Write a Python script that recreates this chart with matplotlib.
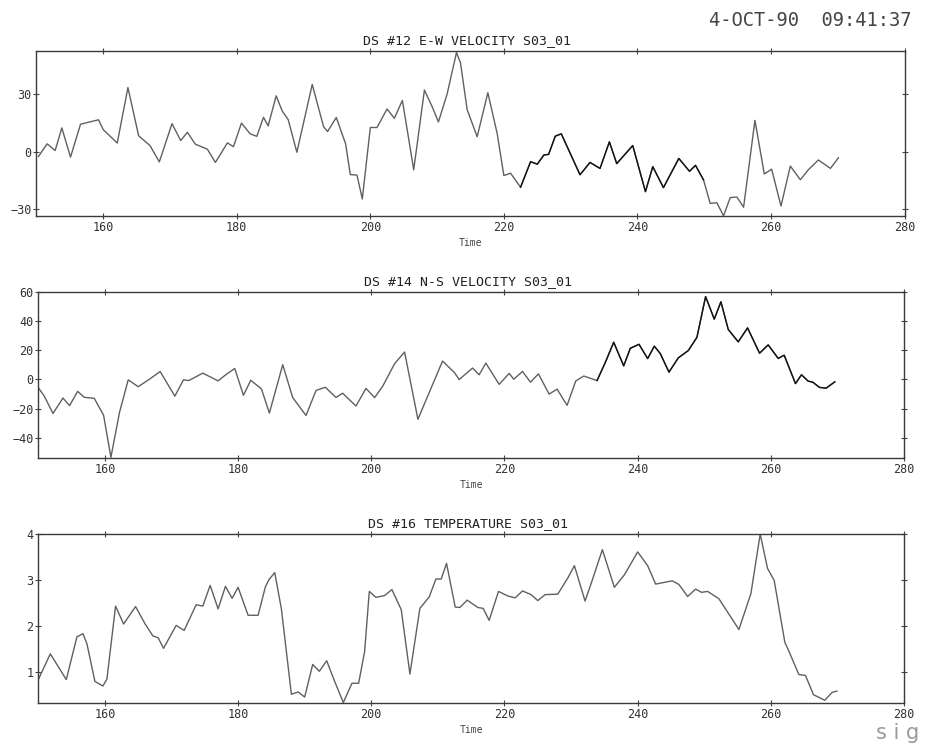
import numpy as np
import matplotlib
matplotlib.use("Agg")
from matplotlib import pyplot as plt

plt.rcParams['font.family'] = ['DejaVu Sans Mono', 'DejaVu Sans']

# DS #12 E-W velocity
t_ew = [150.3, 151.6, 152.8, 153.8, 155.1, 156.6, 158.1, 159.3, 160.0, 162.1,
        163.7, 165.3, 167.0, 168.4, 170.3, 171.6, 172.6, 173.8, 175.6, 176.8,
        178.6, 179.5, 180.7, 182.0, 183.0, 184.0, 184.7, 185.9, 186.8, 187.7,
        189.0, 191.3, 193.0, 193.6, 194.9, 196.3, 197.0, 198.0, 198.8, 200.0,
        201.0, 202.5, 203.6, 204.8, 206.5, 208.1, 209.3, 210.2, 211.5, 212.9,
        213.5, 214.5, 216.0, 217.6, 219.0, 220.0, 221.0, 222.5, 224.0, 225.0,
        226.0, 226.7, 227.7, 228.6, 231.4, 232.9, 234.4, 235.8, 236.9, 239.3,
        241.2, 242.3, 243.9, 246.2, 247.8, 248.7, 249.9, 250.9, 251.9, 252.9,
        253.9, 254.9, 255.9, 257.6, 259.0, 260.1, 261.5, 262.9, 264.4, 265.6,
        267.1, 268.9, 270.1]
v_ew = [-2.6, 4, 0.5, 12.3, -2.9, 14.2, 15.5, 16.5, 11.4, 4.4,
        33.3, 8.2, 3.1, -5.4, 14.5, 5.7, 10, 3.8, 1.2, -5.7,
        4.5, 2.5, 14.8, 9.2, 7.9, 17.8, 13.3, 29, 21.1, 16.6,
        -0.4, 34.9, 12.9, 10.4, 17.7, 4, -12, -12.3, -24.7, 12.5,
        12.5, 22.1, 17.3, 26.6, -9.5, 32, 23, 15.4, 29.9, 51.5,
        46.2, 21.8, 7.7, 30.6, 9.3, -12.5, -11.3, -18.6, -5.3, -6.6,
        -1.8, -1.5, 8, 9.2, -12.1, -5.7, -8.8, 5, -6.3, 3.1,
        -20.9, -7.9, -18.8, -3.6, -10.3, -7.2, -14.8, -27, -26.7, -33.5,
        -24, -23.7, -29, 16.2, -11.7, -9.2, -28.4, -7.6, -14.7, -9.5,
        -4.4, -8.8, -3.3]

# DS #14 N-S velocity
t_ns = [150.0, 150.9, 152.2, 153.7, 154.7, 155.9, 156.9, 158.4, 159.8, 160.9,
        162.2, 163.5, 165.0, 166.7, 168.3, 170.5, 171.8, 172.6, 174.7, 177.0,
        178.2, 179.5, 180.8, 181.9, 183.5, 184.7, 186.7, 188.2, 190.2, 191.7,
        193.1, 194.7, 195.7, 197.7, 199.2, 200.5, 201.7, 203.5, 205.0, 207.0,
        208.7, 210.7, 212.5, 213.2, 215.2, 216.2, 217.2, 219.2, 220.7, 221.4,
        222.7, 223.9, 225.1, 226.7, 227.9, 229.4, 230.7, 231.9, 233.9, 235.1,
        236.4, 237.9, 238.9, 240.2, 241.5, 242.5, 243.4, 244.7, 246.1, 247.6,
        248.9, 250.2, 251.5, 252.5, 253.6, 255.1, 256.5, 258.3, 259.6, 261.1,
        262.0, 263.7, 264.6, 265.6, 266.3, 267.3, 268.3, 269.6]
v_ns = [-5.7, -11.5, -23.4, -12.8, -18, -8.2, -12.3, -13, -24.6, -53.5,
        -22.5, -0.3, -5, 0.2, 5.4, -11.5, -0.3, -0.8, 4.3, -1,
        3.4, 7.5, -10.9, -0.6, -6.5, -23.1, 10.1, -12.5, -24.8, -7.6,
        -5.4, -12.4, -9.5, -18.3, -6.2, -12.5, -4.8, 10.8, 18.8, -27.4,
        -9, 12.6, 4.6, -0.1, 7.8, 3.2, 11.2, -3.4, 4.1, 0.1,
        5.5, -1.9, 3.8, -10.1, -6.7, -17.8, -1.1, 2.3, -0.8, 11.2,
        25.5, 9.3, 21.4, 24.1, 14.3, 22.8, 17.7, 5, 14.8, 19.8,
        28.9, 56.9, 41.4, 53.3, 34.3, 25.8, 35.4, 18, 23.7, 14.4,
        16.6, -2.9, 3.2, -1.2, -1.9, -5.5, -6, -1.7]

# DS #16 temperature
t_tp = [150.0, 151.8, 153.0, 154.2, 155.8, 156.7, 157.3, 158.5, 159.7, 160.3,
        161.6, 162.8, 164.6, 166.0, 167.2, 168.0, 168.8, 170.7, 171.9, 173.7,
        174.7, 175.8, 177.0, 178.1, 179.1, 180.0, 181.5, 183.0, 184.1, 184.6,
        185.5, 186.5, 188.0, 189.0, 190.0, 191.2, 192.2, 193.3, 194.5, 195.8,
        197.1, 198.1, 199.0, 199.7, 200.7, 202.0, 203.1, 204.5, 205.8, 207.3,
        208.7, 209.7, 210.5, 211.3, 212.6, 213.3, 214.4, 216.0, 216.8, 217.7,
        219.1, 220.5, 221.6, 222.7, 224.0, 225.0, 226.1, 228.0, 229.5, 230.5,
        232.1, 233.1, 234.7, 236.5, 238.0, 240.0, 241.5, 242.7, 245.2, 246.2,
        247.5, 248.7, 249.6, 250.5, 252.2, 255.2, 257.0, 258.4, 259.5, 260.5,
        262.1, 262.7, 264.2, 265.2, 266.4, 268.1, 269.2, 269.9]
v_tp = [0.83, 1.39, 1.11, 0.83, 1.76, 1.83, 1.61, 0.79, 0.69, 0.84,
        2.43, 2.04, 2.42, 2.05, 1.78, 1.74, 1.51, 2.01, 1.90, 2.46,
        2.43, 2.88, 2.37, 2.86, 2.60, 2.84, 2.23, 2.23, 2.85, 3.00,
        3.16, 2.37, 0.51, 0.56, 0.45, 1.16, 1.01, 1.24, 0.79, 0.33,
        0.75, 0.75, 1.44, 2.75, 2.62, 2.66, 2.79, 2.35, 0.95, 2.38,
        2.63, 3.02, 3.02, 3.36, 2.41, 2.40, 2.56, 2.40, 2.38, 2.12,
        2.75, 2.65, 2.61, 2.76, 2.68, 2.55, 2.68, 2.69, 3.04, 3.31,
        2.54, 2.96, 3.66, 2.84, 3.11, 3.61, 3.31, 2.91, 2.98, 2.90,
        2.64, 2.80, 2.73, 2.75, 2.59, 1.92, 2.70, 4.00, 3.25, 2.99,
        1.64, 1.45, 0.94, 0.92, 0.50, 0.38, 0.55, 0.58]

titles = ["DS #12 E-W VELOCITY S03_01", "DS #14 N-S VELOCITY S03_01",
          "DS #16 TEMPERATURE S03_01"]
xticks = [160, 180, 200, 220, 240, 260, 280]
yticks = [[-30, 0, 30], [-40, -20, 0, 20, 40, 60], [1, 2, 3, 4]]
ylims = [(-33.6, 52.3), (-54, 60), (0.32, 4.0)]
dark_spans = [(222.2, 250.1), (233.9, 271), None]

fig = plt.figure(figsize=(9.3, 7.45), dpi=100)
boxes = [[0.0392, 0.710, 0.9334, 0.2215],
         [0.0412, 0.3852, 0.9309, 0.2228],
         [0.0412, 0.0564, 0.9309, 0.2268]]
series = [(t_ew, v_ew), (t_ns, v_ns), (t_tp, v_tp)]

for i in range(3):
    ax = fig.add_axes(boxes[i])
    t = np.array(series[i][0])
    v = np.array(series[i][1])
    ax.plot(t, v, color="#606060", lw=1.0)
    if dark_spans[i] is not None:
        a, b = dark_spans[i]
        m = (t >= a) & (t <= b)
        ax.plot(t[m], v[m], color="#111111", lw=1.0)
    ax.set_xlim(150, 280)
    ax.set_ylim(*ylims[i])
    ax.set_xticks(xticks)
    ax.set_yticks(yticks[i])
    ax.tick_params(direction="inout", length=4, width=0.8, color="#444444",
                   labelsize=8.5, labelcolor="#333333", top=True, right=True,
                   pad=1.5)
    for s in ax.spines.values():
        s.set_color("#3a3a3a")
        s.set_linewidth(1.0)
    ax.set_title(titles[i], fontsize=9.5, color="#222222", pad=5, x=0.496)
    ax.set_xlabel("Time", fontsize=7, color="#444444", labelpad=3)

fig.text(0.98, 0.972, "4-OCT-90  09:41:37", ha="right", va="center",
         fontsize=13.5, color="#444444")
fig.text(0.988, 0.008, "s i g", ha="right", va="baseline", fontsize=15,
         color="#9a9a9a", family="DejaVu Sans")

fig.savefig("out.png", dpi=100)
